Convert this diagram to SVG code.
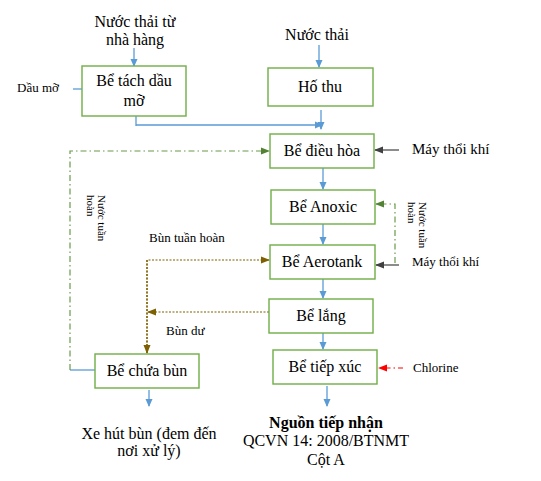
<svg xmlns="http://www.w3.org/2000/svg" width="541" height="481" viewBox="0 0 541 481">
<defs>
<style>
.box{fill:#fff;stroke:#70ad47;stroke-width:1.4}
.t{font-family:"Liberation Serif","Times New Roman",serif;font-size:16px;fill:#000}
.s{font-family:"Liberation Serif","Times New Roman",serif;font-size:13px;fill:#000}
.v{font-family:"Liberation Serif","Times New Roman",serif;font-size:11px;fill:#000}
.b{stroke:#5b9bd5;stroke-width:1.3;fill:none}
.g{stroke:#6a9a4a;stroke-width:1.2;fill:none;stroke-dasharray:6 3 1.5 3}
.br{stroke:#7f6000;stroke-width:1.2;fill:none;stroke-dasharray:2 1.5}
.k{stroke:#404040;stroke-width:1.2;fill:none}
.r{stroke:#ff0000;stroke-width:1.2;fill:none;stroke-dasharray:5 3 1.5 3}
</style>
<marker id="ab" markerWidth="8" markerHeight="8" refX="7" refY="4" orient="auto" markerUnits="userSpaceOnUse"><path d="M0,0.5 L8,4 L0,7.5 z" fill="#5b9bd5"/></marker>
<marker id="ag" markerWidth="9" markerHeight="8" refX="8" refY="4" orient="auto" markerUnits="userSpaceOnUse"><path d="M0,0.5 L9,4 L0,7.5 z" fill="#548235"/></marker>
<marker id="abr" markerWidth="9" markerHeight="8" refX="8" refY="4" orient="auto" markerUnits="userSpaceOnUse"><path d="M0,0.5 L9,4 L0,7.5 z" fill="#7f6000"/></marker>
<marker id="ak" markerWidth="9" markerHeight="8" refX="8" refY="4" orient="auto" markerUnits="userSpaceOnUse"><path d="M0,0.5 L9,4 L0,7.5 z" fill="#404040"/></marker>
<marker id="ar" markerWidth="9" markerHeight="8" refX="8" refY="4" orient="auto" markerUnits="userSpaceOnUse"><path d="M0,0.5 L9,4 L0,7.5 z" fill="#ff0000"/></marker>
</defs>
<rect width="541" height="481" fill="#fff"/>
<g id="connectors">
<path class="b" d="M134,48 V66" marker-end="url(#ab)"/>
<path class="b" d="M319,45 V67" marker-end="url(#ab)"/>
<path class="b" d="M321,110 V129" marker-end="url(#ab)"/>
<path class="b" d="M136,116 V126 M136,125 H322" marker-end="url(#ab)"/>
<path class="b" d="M73,89 H82"/>
<path class="b" d="M323,168 V189" marker-end="url(#ab)"/>
<path class="b" d="M323,224 V244" marker-end="url(#ab)"/>
<path class="b" d="M323,279 V298" marker-end="url(#ab)"/>
<path class="b" d="M323,333 V349" marker-end="url(#ab)"/>
<path class="b" d="M327,386 V406" marker-end="url(#ab)"/>
<path class="b" d="M149,390 V406" marker-end="url(#ab)"/>
<path class="b" d="M70,370 H95"/>
<path class="g" d="M70,370 V151 H269" marker-end="url(#ag)"/>
<path class="g" d="M395,263 V204 H376" marker-end="url(#ag)"/>
<path class="br" d="M147,353 V260 H269" marker-end="url(#abr)"/>
<path class="br" d="M147,260 V353" marker-end="url(#abr)"/>
<path class="br" d="M269,312 H148" marker-end="url(#abr)"/>
<path class="k" d="M399,150 H375" marker-end="url(#ak)"/>
<path class="k" d="M399,265 H376" marker-end="url(#ak)"/>
<path class="r" d="M403,368 H379" marker-end="url(#ar)"/>
</g>
<g id="n-tachdau"><rect class="box" x="82" y="66" width="104" height="50"/><text class="t" x="134" y="86" text-anchor="middle">Bể tách dầu</text><text class="t" x="134" y="106" text-anchor="middle">mỡ</text></g>
<g id="n-hothu"><rect class="box" x="268" y="68" width="105" height="38"/><text class="t" x="320" y="92" text-anchor="middle">Hố thu</text></g>
<g id="n-dieuhoa"><rect class="box" x="270" y="134" width="104" height="34"/><text class="t" x="322" y="156" text-anchor="middle">Bể điều hòa</text></g>
<g id="n-anoxic"><rect class="box" x="271" y="190" width="104" height="34"/><text class="t" x="323" y="212" text-anchor="middle">Bể Anoxic</text></g>
<g id="n-aerotank"><rect class="box" x="270" y="245" width="105" height="34"/><text class="t" x="322" y="267" text-anchor="middle">Bể Aerotank</text></g>
<g id="n-lang"><rect class="box" x="269" y="299" width="104" height="34"/><text class="t" x="321" y="321" text-anchor="middle">Bể lắng</text></g>
<g id="n-tiepxuc"><rect class="box" x="273" y="350" width="104" height="34"/><text class="t" x="325" y="372" text-anchor="middle">Bể tiếp xúc</text></g>
<g id="n-chuabun"><rect class="box" x="95" y="354" width="104" height="34"/><text class="t" x="147" y="376" text-anchor="middle">Bể chứa bùn</text></g>
<g id="labels">
<text class="t" x="135" y="27" text-anchor="middle">Nước thải từ</text>
<text class="t" x="135" y="45" text-anchor="middle">nhà hàng</text>
<text class="t" x="317" y="40" text-anchor="middle">Nước thải</text>
<text class="s" x="17" y="92">Dầu mỡ</text>
<text class="t" x="412" y="154" style="font-size:15px">Máy thổi khí</text>
<text class="s" x="412" y="266">Máy thổi khí</text>
<text class="s" x="149" y="242">Bùn tuần hoàn</text>
<text class="s" x="166" y="335">Bùn dư</text>
<text class="s" x="413" y="372">Chlorine</text>
<text class="v" transform="translate(98,195) rotate(90)">Nước tuần</text>
<text class="v" transform="translate(87,195) rotate(90)">hoàn</text>
<text class="v" transform="translate(419,202) rotate(90)">Nước tuần</text>
<text class="v" transform="translate(408,202) rotate(90)">hoàn</text>
<text class="t" x="149" y="439" text-anchor="middle">Xe hút bùn (đem đến</text>
<text class="t" x="149" y="456" text-anchor="middle">nơi xử lý)</text>
<text class="t" x="326" y="428" text-anchor="middle" font-weight="bold">Nguồn tiếp nhận</text>
<text class="t" x="326" y="446" text-anchor="middle">QCVN 14: 2008/BTNMT</text>
<text class="t" x="326" y="465" text-anchor="middle">Cột A</text>
</g>
</svg>
